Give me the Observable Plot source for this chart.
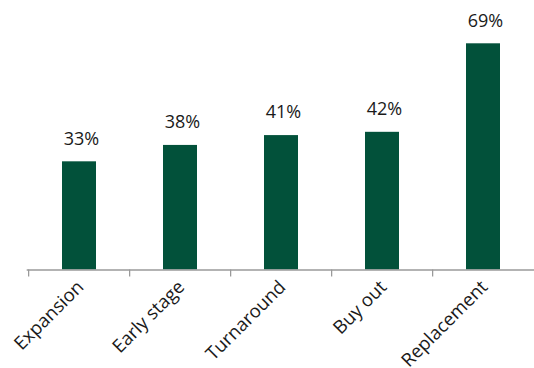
<!DOCTYPE html>
<html>
<head>
<meta charset="utf-8">
<script src="https://cdn.jsdelivr.net/npm/d3@7"></script>
<script src="https://cdn.jsdelivr.net/npm/@observablehq/plot@0.6"></script>
<style>
  html, body { margin: 0; padding: 0; background: #fff; }
</style>
</head>
<body>
<div id="chart"></div>
<script>
// Share of deals by investment stage
const categories = ["Expansion", "Early stage", "Turnaround", "Buy out", "Replacement"];
const shares = [33, 38, 41, 42, 69];

const data = categories.map((category, i) => ({ category, share: shares[i] }));

const width = 534;
const height = 368;
const marginLeft = 26.7;
const marginRight = -1.5;
// each category occupies one equal slot; axis ticks sit on slot edges
const step = (width - marginRight - marginLeft) / categories.length;

const green = "#02513a";
const ink = "#1a1a1a";
const axisGray = "#9a9a9a";
const font = "'Open Sans', 'Noto Sans', sans-serif";

const chart = Plot.plot({
  width,
  height,
  marginTop: 43.3,
  marginBottom: 98.5,
  marginLeft,
  marginRight,
  style: { fontFamily: font, background: "#fff" },
  x: { domain: categories, paddingInner: 0.66, paddingOuter: 0.33, axis: null },
  y: { domain: [0, d3.max(shares)], axis: null },
  marks: [
    Plot.barY(data, { x: "category", y: "share", fill: green }),
    // baseline
    Plot.ruleY([0], { stroke: axisGray, strokeWidth: 1.3 }),
    // tick marks at the left edge of each category slot
    Plot.ruleX(categories, {
      x: d => d, y1: 0, y2: 0, insetBottom: -7, dx: -step / 2,
      stroke: axisGray, strokeWidth: 1.3
    }),
    // value labels
    Plot.text(data, {
      x: "category", y: "share", text: d => `${d.share}%`,
      dy: -23, dx: 2, fontSize: 18, fill: ink
    }),
    // rotated category labels
    Plot.text(categories, {
      x: d => d, y: 0, text: d => d,
      rotate: -45, textAnchor: "end", dx: 1, dy: 14,
      fontSize: 18.5, fill: ink
    })
  ]
});

document.getElementById("chart").appendChild(chart);
</script>
</body>
</html>
